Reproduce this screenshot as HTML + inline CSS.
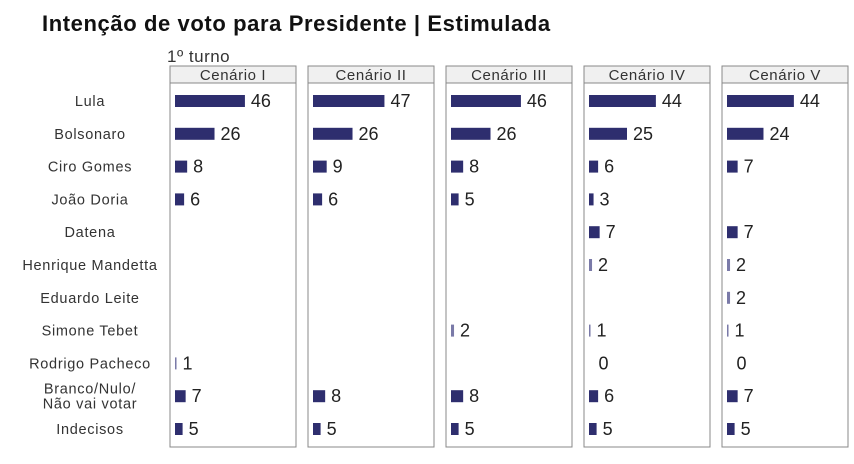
<!DOCTYPE html>
<html><head><meta charset="utf-8"><style>
body{margin:0;background:#fff;width:854px;height:459px;overflow:hidden;font-family:"Liberation Sans",sans-serif}
</style></head><body>
<svg width="854" height="459" id="c">
<text x="42" y="31" font-size="22" font-weight="bold" letter-spacing="0.6" fill="#111">Intenção de voto para Presidente | Estimulada</text>
<text x="167" y="62" font-size="17" letter-spacing="0.5" fill="#333">1º turno</text>
</svg>
<script>
const candidates=["Lula","Bolsonaro","Ciro Gomes","João Doria","Datena","Henrique Mandetta","Eduardo Leite","Simone Tebet","Rodrigo Pacheco","Branco/Nulo/|Não vai votar","Indecisos"];
const scenarios=["Cenário I","Cenário II","Cenário III","Cenário IV","Cenário V"];
const s1=[46,26,8,6,null,null,null,null,1,7,5];
const s2=[47,26,9,6,null,null,null,null,null,8,5];
const s3=[46,26,8,5,null,null,null,2,null,8,5];
const s4=[44,25,6,3,7,2,null,1,0,6,5];
const s5=[44,24,7,null,7,2,2,1,0,7,5];
const series=[s1,s2,s3,s4,s5];
const NS="http://www.w3.org/2000/svg",svg=document.getElementById('c');
function mk(t,a,txt){const e=document.createElementNS(NS,t);for(const k in a)e.setAttribute(k,a[k]);if(txt!==undefined)e.textContent=txt;svg.appendChild(e);return e;}
const yRow=i=>101+i*32.8;
const xScale=v=>v*1.52;
candidates.forEach((c,i)=>{
  const parts=c.split('|');
  parts.forEach((p,j)=>{
    const t=mk('text',{x:90,y:yRow(i)+5+(parts.length>1?(j-0.5)*15:0),'font-size':14.5,'letter-spacing':0.7,fill:'#333','text-anchor':'middle'},p);
    
    
  });
});
scenarios.forEach((s,k)=>{
  const px=170+k*138;
  const h=mk('rect',{x:px,y:66,width:126,height:17,fill:'#f0f0f0',stroke:'#888'});
  
  
  const ht=mk('text',{x:px+63,y:80,'font-size':15,'letter-spacing':0.6,fill:'#333','text-anchor':'middle'},s);
  
  
  const b=mk('rect',{x:px,y:83,width:126,height:364,fill:'none',stroke:'#888'});
  
  
  series[k].forEach((v,i)=>{
    if(v===null)return;
    const x0=px+5,w=xScale(v),y=yRow(i);
    if(v>0){
      const r=mk('rect',{x:x0,y:y-6,width:Math.max(w,1.5),height:12,fill:v<=2?'#7a7aa8':'#2e2e6e'});
      
      
    }
    const t=mk('text',{x:x0+Math.max(w,1.5)+(v>0?6:8),y:y+6,'font-size':18,fill:'#222'},v);
    
    
  });
});
</script>
</body></html>
